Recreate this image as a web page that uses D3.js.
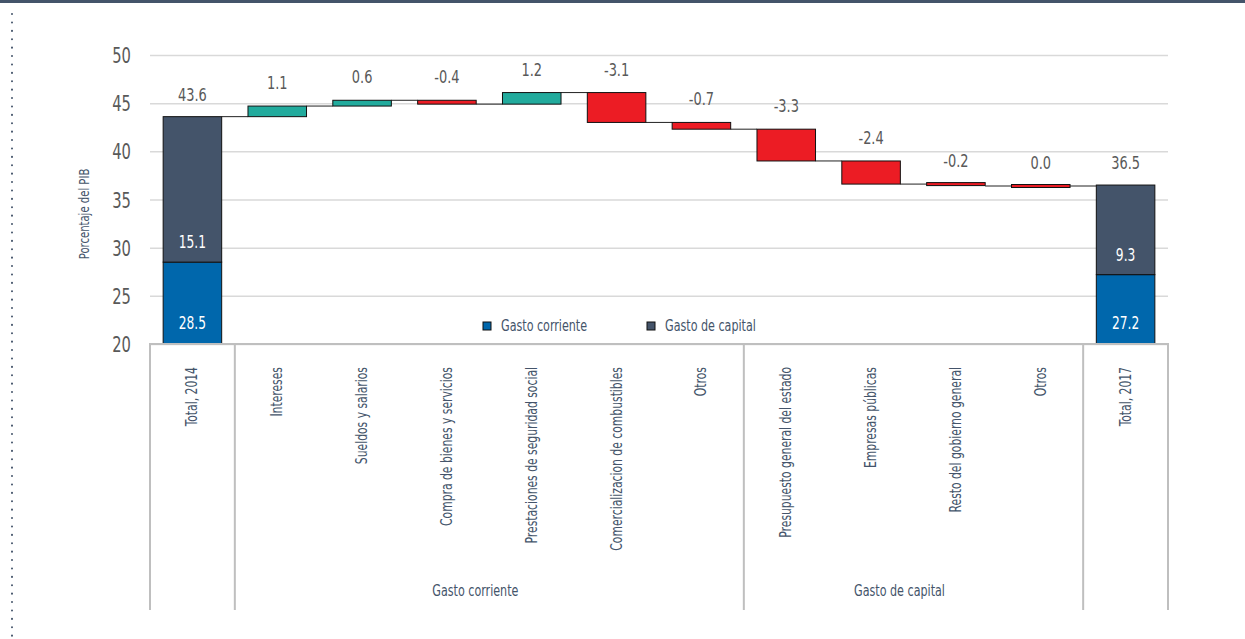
<!DOCTYPE html>
<html>
<head>
<meta charset="utf-8">
<script src="https://cdn.jsdelivr.net/npm/d3@7"></script>
<style>
  body { margin: 0; background: #fff; }
  svg { display: block; font-family: "Liberation Sans Narrow", "DejaVu Sans Condensed", sans-serif; }
</style>
</head>
<body>
<div class="chart"></div>
<script>
// Waterfall: gasto total 2014 -> 2017 (porcentaje del PIB)

// Data
let categories = ['Total, 2014', 'Intereses', 'Sueldos y salarios', 'Compra de bienes y servicios',
  'Prestaciones de seguridad social', 'Comercializacion de combustibles', 'Otros',
  'Presupuesto general del estado', 'Empresas públicas', 'Resto del gobierno general', 'Otros', 'Total, 2017'];
let deltas = [null, 1.1, 0.6, -0.4, 1.2, -3.1, -0.7, -3.3, -2.4, -0.2, 0.0, null];
let totalCorriente = [28.5, 27.2];   // Total 2014, Total 2017
let totalCapital = [15.1, 9.3];
let groupNames = ['Gasto corriente', 'Gasto de capital'];
let groupFirst = [1, 7];
let groupLast = [6, 10];
let yTicks = [20, 25, 30, 35, 40, 45, 50];

let W = 1245, H = 639;
let slate = '#44546a', blue = '#0067ac', teal = '#22ab9d', red = '#ec1c24';
let SX = 0.8; // squeeze the condensed font toward the narrow original

let svg = d3.select('.chart').append('svg')
  .attr('width', W).attr('height', H);

// text helper: position + optional rotation + horizontal squeeze
function label(parent, x, y, str, size, fill, anchor, rot) {
  return parent.append('text')
    .attr('transform', 'translate(' + x + ',' + y + ')' + (rot ? ' rotate(' + rot + ')' : '') + ' scale(' + SX + ',1)')
    .attr('text-anchor', anchor || 'middle')
    .attr('fill', fill).style('font-size', size + 'px')
    .text(str);
}

// frame: top bar + dotted left rule
svg.append('rect').attr('x', 0).attr('y', 0).attr('width', W).attr('height', 3).attr('fill', slate);
svg.append('line')
  .attr('x1', 12).attr('x2', 12).attr('y1', 14).attr('y2', H)
  .attr('stroke', slate).attr('stroke-width', 2)
  .attr('stroke-linecap', 'round').attr('stroke-dasharray', '0.1 8.3');

// scales
let xScale = d3.scaleBand().domain(d3.range(categories.length))
  .range([150, 1168]).paddingInner(0.31).paddingOuter(0.155);
let yScale = d3.scaleLinear().domain([20, 50]).range([344, 55]);
let step = xScale.step();
let bw = xScale.bandwidth();

// gridlines
svg.append('g')
  .attr('transform', 'translate(150,0)')
  .call(d3.axisLeft(yScale).tickValues(yTicks).tickSize(-(1168 - 150)).tickFormat(''))
  .call(g => g.select('.domain').remove())
  .call(g => g.selectAll('line').attr('stroke', '#d9d9d9').attr('stroke-width', 1.5));

// y axis labels
svg.append('g')
  .attr('transform', 'translate(131,0)')
  .call(d3.axisLeft(yScale).tickValues(yTicks).tickSize(0).tickPadding(0))
  .call(g => g.select('.domain').remove())
  .call(g => g.selectAll('text')
    .attr('x', 0).attr('dy', '0.36em')
    .attr('transform', 'scale(0.78,1)')
    .attr('fill', '#595959').style('font-size', '21px')
    .style('font-family', '"Liberation Sans Narrow", "DejaVu Sans Condensed", sans-serif'));

label(svg, 89, 214, 'Porcentaje del PIB', 14, slate, 'middle', -90);

// running totals for the waterfall
let start = totalCorriente[0] + totalCapital[0];
let steps = [];
let level = start;
deltas.forEach(function(d, i) {
  if (d === null) return;
  steps.push({i: i, from: level, to: level + d, v: d});
  level = level + d;
});

// connectors
let levels = [{i: 0, v: start}].concat(steps.map(s => ({i: s.i, v: s.to})));
svg.selectAll('.conn')
  .data(levels)
  .enter().append('line')
  .attr('class', 'conn')
  .attr('x1', d => xScale(d.i) + bw)
  .attr('x2', d => xScale(d.i) + step)
  .attr('y1', d => yScale(d.v)).attr('y2', d => yScale(d.v))
  .attr('stroke', '#222').attr('stroke-width', 1);

// total bars (stacked)
let totals = [0, categories.length - 1].map(function(i, k) {
  return {i: i, a: totalCorriente[k], b: totalCapital[k]};
});
totals.forEach(function(t) {
  let x = xScale(t.i);
  svg.append('rect')
    .attr('x', x).attr('width', bw)
    .attr('y', yScale(t.a)).attr('height', yScale(20) - yScale(t.a))
    .attr('fill', blue).attr('stroke', '#111').attr('stroke-width', 1);
  svg.append('rect')
    .attr('x', x).attr('width', bw)
    .attr('y', yScale(t.a + t.b)).attr('height', yScale(t.a) - yScale(t.a + t.b))
    .attr('fill', slate).attr('stroke', '#111').attr('stroke-width', 1);
  label(svg, x + bw / 2, yScale(20) - 15, t.a.toFixed(1), 17, '#fff');
  label(svg, x + bw / 2, yScale(t.a) - 14, t.b.toFixed(1), 17, '#fff');
  label(svg, x + bw / 2, yScale(t.a + t.b) - 16, (t.a + t.b).toFixed(1), 18, '#595959');
});

// change bars
svg.selectAll('.step')
  .data(steps)
  .enter().append('rect')
  .attr('class', 'step')
  .attr('x', d => xScale(d.i)).attr('width', bw)
  .attr('y', function(d) {
    let top = yScale(Math.max(d.from, d.to));
    let h = Math.abs(yScale(d.from) - yScale(d.to));
    return h < 3 ? yScale(d.from) - 1.5 : top;
  })
  .attr('height', d => Math.max(3, Math.abs(yScale(d.from) - yScale(d.to))))
  .attr('fill', d => d.v > 0 ? teal : red)
  .attr('stroke', '#111').attr('stroke-width', 1);

steps.forEach(function(d) {
  label(svg, xScale(d.i) + bw / 2, yScale(Math.max(d.from, d.to)) - 17, d.v.toFixed(1), 18, '#595959');
});

// category axis
let axisY = 344, axisBottom = 610;
let axisG = svg.append('g').attr('stroke', '#bfbfbf').attr('stroke-width', 2);
axisG.append('line').attr('x1', 149).attr('x2', 1169).attr('y1', axisY).attr('y2', axisY);
[0, 1, 7, 11, 12].forEach(function(k) {
  let x = 150 + k * step;
  axisG.append('line').attr('x1', x).attr('x2', x).attr('y1', axisY).attr('y2', axisBottom);
});

categories.forEach(function(c, i) {
  label(svg, xScale(i) + bw / 2 + 5, 367, c, 15, slate, 'end', -90);
});

groupNames.forEach(function(name, k) {
  let cx = (150 + groupFirst[k] * step + 150 + (groupLast[k] + 1) * step) / 2 - 14;
  label(svg, cx, 596, name, 15.5, slate);
});

// legend
let legendItems = [{name: 'Gasto corriente', color: blue, x: 483}, {name: 'Gasto de capital', color: slate, x: 647}];
legendItems.forEach(function(d) {
  let g = svg.append('g').attr('transform', 'translate(' + d.x + ',322)');
  g.append('rect')
    .attr('width', 8).attr('height', 8)
    .attr('fill', d.color).attr('stroke', '#111').attr('stroke-width', 1);
  label(g, 18, 9, d.name, 15.5, slate, 'start');
});
</script>
</body>
</html>
